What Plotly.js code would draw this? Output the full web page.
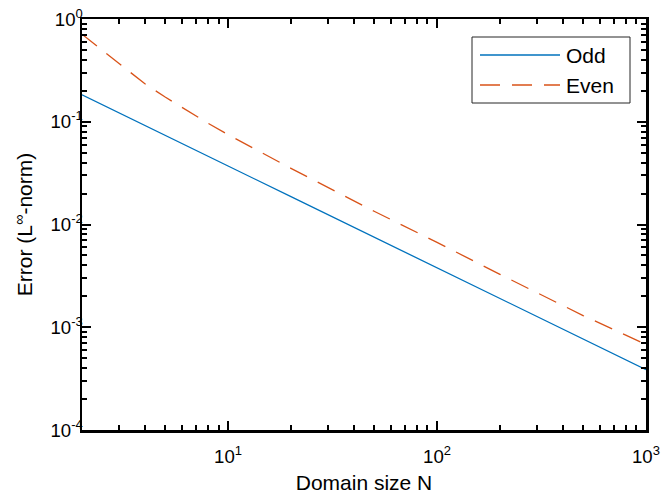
<!DOCTYPE html>
<html>
<head>
<meta charset="utf-8">
<script src="https://cdn.plot.ly/plotly-3.0.1.min.js"></script>
<style>html,body{margin:0;padding:0;background:#fff;}#chart{width:661px;height:494px;}</style>
</head>
<body>
<div id="chart"></div>
<script>
// Domain sizes N
const domainN = [2, 3, 4, 5, 6, 8, 10, 20, 50, 100, 200, 500, 1000];
// Odd series error values
const oddErr = [0.183, 0.122, 0.092, 0.0738, 0.0615, 0.0463, 0.0371, 0.01866, 0.00753, 0.00379, 0.00191, 0.000769, 0.000387];
// Even series error values
const evenErr = [0.71, 0.368, 0.234, 0.174, 0.138, 0.097, 0.0748, 0.0352, 0.01346, 0.0067, 0.00327, 0.0013, 0.00068];
const seriesNames = ['Odd', 'Even'];
const xTickVals = [10, 100, 1000];
const xTickText = ['10<sup>1</sup>', '10<sup>2</sup>', '10<sup>3</sup>'];
const yTickVals = [1e-4, 1e-3, 1e-2, 1e-1, 1];
const yTickText = ['10<sup>-4</sup>', '10<sup>-3</sup>', '10<sup>-2</sup>', '10<sup>-1</sup>', '10<sup>0</sup>'];

const blue = '#0072BD', orange = '#D95319';
const font = 'Liberation Sans, Arial, Helvetica, sans-serif';

function minorVals(lo, hi) {
  const out = [];
  for (let e = lo; e < hi; e++) for (let m = 2; m <= 9; m++) out.push(m * Math.pow(10, e));
  return out;
}

const traces = [
  {x: domainN, y: oddErr, name: seriesNames[0], type: 'scatter', mode: 'lines',
   line: {color: blue, width: 1.3}},
  {x: domainN, y: evenErr, name: seriesNames[1], type: 'scatter', mode: 'lines',
   line: {color: orange, width: 1.3, dash: '19px,12px'}}
];

// Legend drawn in paper coordinates
const L = {x0: 472, x1: 630, y0: 37, y1: 103};
const W = 661, H = 494, ml = 82, mr = 15, mt = 19, mb = 64;
const pw = W - ml - mr, ph = H - mt - mb;
const px = v => (v - ml) / pw;
const py = v => 1 - (v - mt) / ph;

const layout = {
  width: W, height: H,
  margin: {l: ml, r: mr, t: mt, b: mb, pad: 0},
  paper_bgcolor: '#fff', plot_bgcolor: '#fff',
  showlegend: false,
  font: {family: font, size: 19, color: '#000'},
  xaxis: {
    type: 'log', range: [Math.log10(2), 3],
    tickmode: 'array', tickvals: xTickVals, ticktext: xTickText,
    ticks: 'inside', ticklen: 9, tickwidth: 2, tickcolor: '#000',
    showline: true, linecolor: '#000', linewidth: 2.5, mirror: 'ticks',
    showgrid: false, zeroline: false, ticklabelstandoff: 8,
    minor: {tickmode: 'array', tickvals: minorVals(0, 3).filter(v => v > 2), ticks: 'inside', ticklen: 5, tickwidth: 2, tickcolor: '#000', showgrid: false},
    tickfont: {size: 18.6},
    title: {text: 'Domain size N', font: {size: 21}, standoff: 10}
  },
  yaxis: {
    type: 'log', range: [-4, 0],
    tickmode: 'array', tickvals: yTickVals, ticktext: yTickText,
    ticks: 'inside', ticklen: 9, tickwidth: 2, tickcolor: '#000',
    showline: true, linecolor: '#000', linewidth: 2.5, mirror: 'ticks',
    showgrid: false, zeroline: false, ticklabelstandoff: -7,
    minor: {tickmode: 'array', tickvals: minorVals(-4, 0), ticks: 'inside', ticklen: 5, tickwidth: 2, tickcolor: '#000', showgrid: false},
    tickfont: {size: 18.6},
    title: {text: 'Error (L<sup>∞</sup>-norm)', font: {size: 21}, standoff: 12}
  },
  shapes: [
    {type: 'rect', xref: 'paper', yref: 'paper', x0: px(L.x0), x1: px(L.x1), y0: py(L.y0), y1: py(L.y1),
     line: {color: '#262626', width: 1}, fillcolor: '#fff', layer: 'above'},
    {type: 'line', xref: 'paper', yref: 'paper', x0: px(480), x1: px(560), y0: py(55), y1: py(55),
     line: {color: blue, width: 1.3}, layer: 'above'},
    {type: 'line', xref: 'paper', yref: 'paper', x0: px(480), x1: px(560), y0: py(85), y1: py(85),
     line: {color: orange, width: 1.3, dash: '20px,12px'}, layer: 'above'}
  ],
  annotations: [
    {xref: 'paper', yref: 'paper', x: px(564), y: py(55), text: seriesNames[0], showarrow: false,
     xanchor: 'left', yanchor: 'middle', font: {size: 21, color: '#000'}},
    {xref: 'paper', yref: 'paper', x: px(564), y: py(85), text: seriesNames[1], showarrow: false,
     xanchor: 'left', yanchor: 'middle', font: {size: 21, color: '#000'}}
  ]
};

Plotly.newPlot('chart', traces, layout, {staticPlot: true, displayModeBar: false});
</script>
</body>
</html>
